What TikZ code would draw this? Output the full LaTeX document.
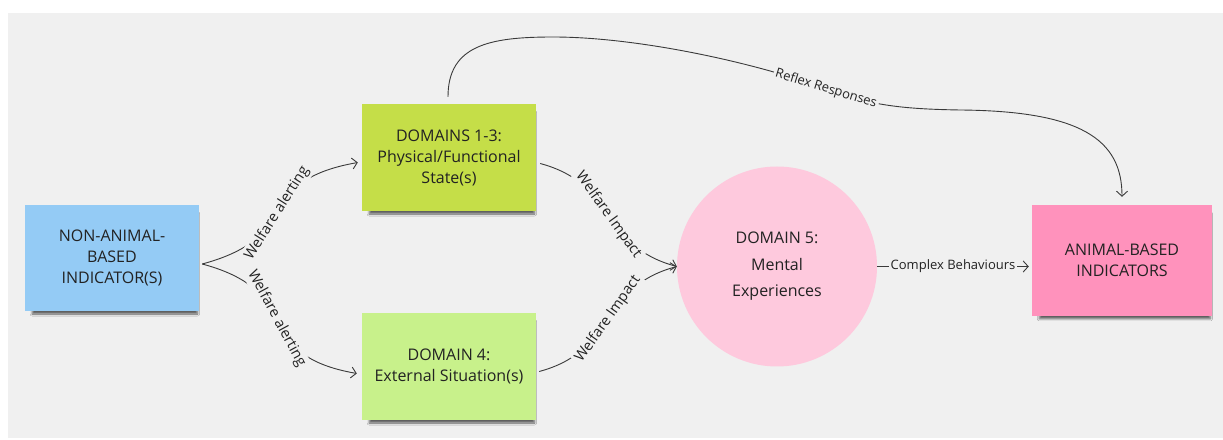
\documentclass[tikz,border=0pt]{standalone}
\usepackage{fontspec}
\setmainfont{Open Sans}
\usetikzlibrary{arrows.meta}
\usetikzlibrary{shapes}
\usetikzlibrary{shadows.blur}

\definecolor{bggrey}{HTML}{F0F0F0}
\definecolor{inkgrey}{HTML}{222222}
\definecolor{linegrey}{HTML}{3A3A3A}
\definecolor{noteblue}{HTML}{94CBF5}
\definecolor{notelime}{HTML}{C5DE48}
\definecolor{notegreen}{HTML}{C8F18B}
\definecolor{notepink}{HTML}{FF92BC}
\definecolor{mindpink}{HTML}{FEC9DD}

\tikzset{
  >={Straight Barb[length=5pt,width=11pt]},
  note/.style={rectangle, minimum width=174pt, minimum height=107pt, align=center,
    text=inkgrey, font=\fontsize{16}{21}\selectfont,
    blur shadow={shadow xshift=3pt, shadow yshift=-6pt, shadow scale=0.95,
      shadow opacity=60, shadow blur steps=6}},
  lbl/.style={fill=bggrey, inner sep=2pt, text=inkgrey, font=\fontsize{13}{15}\selectfont},
  bentlbl/.style={lbl, sloped, font=\fontsize{14.5}{16}\selectfont},
  link/.style={draw=linegrey, line width=0.9pt}
}

\begin{document}
\begin{tikzpicture}[x=1pt,y=1pt]
\useasboundingbox (0,0) rectangle (1223,439);
\fill[bggrey] (8,1) rectangle (1223,426);

\node[note, fill=noteblue, minimum height=106pt] (nonanimal) at (112,181) {NON-ANIMAL-\\BASED\\INDICATOR(S)};
\node[note, fill=notelime] (physical) at (449,281.5) {DOMAINS 1-3:\\Physical/Functional\\State(s)};
\node[note, fill=notegreen] (external) at (449,72.5) {DOMAIN 4:\\External Situation(s)};
\node[circle, fill=mindpink, minimum size=200pt, inner sep=0pt, align=center, text=inkgrey,
  font=\fontsize{16}{26.5}\selectfont] (mental) at (777,172.5) {DOMAIN 5:\\Mental\\Experiences};
\node[note, fill=notepink, minimum width=180pt, minimum height=111pt] (animal) at (1122,178.5) {ANIMAL-BASED\\INDICATORS};

\coordinate (fork) at ([xshift=3pt,yshift=-6pt]nonanimal.east);

\draw[link,->] (fork) to[out=15,in=190,looseness=1.5] node[bentlbl, pos=0.47] {Welfare alerting} ([xshift=-4pt,yshift=-5pt]physical.west);
\draw[link,->] (fork) to[out=-15,in=170,looseness=1.5] node[bentlbl, pos=0.47] {Welfare alerting} ([xshift=-5pt,yshift=-7pt]external.west);

\draw[link,->] ([xshift=4pt,yshift=-6pt]physical.east) to[out=-15,in=165,looseness=1.2] node[bentlbl, pos=0.5] {Welfare Impact} (mental.west);
\draw[link,->] ([xshift=3pt,yshift=-5pt]external.east) to[out=15,in=195,looseness=1.2] node[bentlbl, pos=0.5] {Welfare Impact} (mental.west);

\draw[link,->] (mental) -- node[lbl] {Complex Behaviours} ([xshift=-3pt]mental -| animal.west);

\draw[link,->] ([xshift=-1pt,yshift=7pt]physical.north) .. controls (448,394) and (490,402) .. (553,402)
  .. controls (640,402) and (760,375) .. (826,350) .. controls (870,334) and (900,330) .. (960,329)
  .. controls (1080,328) and (1122,300) .. ([yshift=8pt]animal.north);
\node[lbl, rotate=-17] (reflex) at (826,350) {Reflex Responses};
\end{tikzpicture}
\end{document}
